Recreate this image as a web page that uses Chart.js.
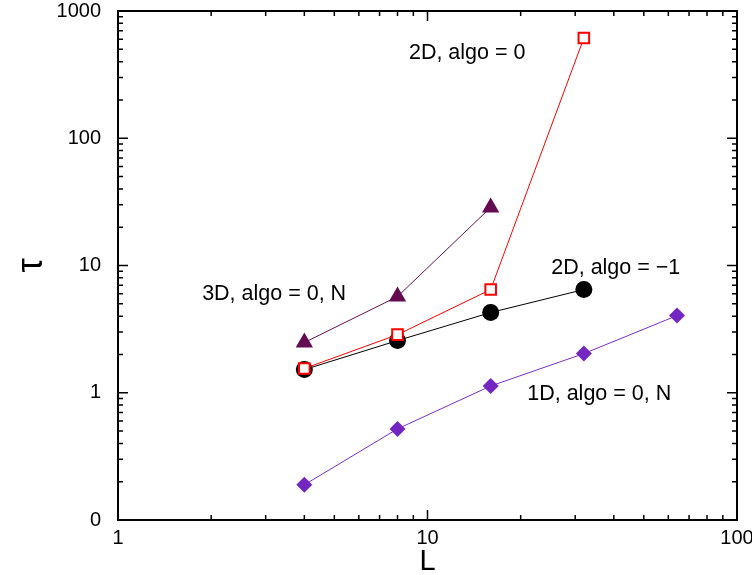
<!DOCTYPE html>
<html>
<head>
<meta charset="utf-8">
<script src="https://cdn.jsdelivr.net/npm/chart.js@4"></script>
<style>
  body { margin: 0; background: #fff; }
  #wrap { width: 752px; height: 575px; }
</style>
</head>
<body>
<div id="wrap"><canvas id="my-chart"></canvas></div>
<script>
'use strict'
///data///
let sizes = [4, 8, 16, 32, 64]
let tau2dAlgoMinus1 = [1.52, 2.57, 4.27, 6.47]
let tau2dAlgo0 = [1.55, 2.86, 6.47, 613]
let tau3dAlgo0N = [2.48, 5.7, 28.6]
let tau1dAlgo0N = [0.189, 0.52, 1.13, 2.03, 4.04]

let xTicks = [1, 10, 100]
let yTicks = [0.1, 1, 10, 100, 1000]
let yTickLabels = ['0', '1', '10', '100', '1000']

///labels written in the plot, anchored in data units (left edge, middle)
let notes = [
  { text: '2D, algo = 0', x: 8.71, y: 468 },
  { text: '3D, algo = 0, N', x: 1.87, y: 5.97 },
  { text: '2D, algo = \u22121', x: 25.1, y: 9.55 },
  { text: '1D, algo = 0, N', x: 21.0, y: 0.97 }
]

const FONT = '"Liberation Sans", Arial, sans-serif'

function toPoints(vals) {
  let pts = []
  for (let i = 0; i < vals.length; i++) {
    pts.push({ x: sizes[i], y: vals[i] })
  }
  return pts
}

///frame + inward ticks on all four sides
let frameTicks = {
  id: 'frameTicks',
  afterDraw(chart) {
    let c = chart.ctx
    let a = chart.chartArea
    let xs = chart.scales.x
    let ys = chart.scales.y
    c.save()
    c.strokeStyle = '#000'
    c.lineWidth = 1.5
    function logTicks(min, max) {
      let out = []
      for (let d = min; d < max * 0.999; d *= 10) {
        for (let k = 1; k < 10; k++) out.push({ v: d * k, major: k === 1 })
      }
      out.push({ v: max, major: true })
      return out
    }
    logTicks(1, 100).forEach(t => {
      let px = xs.getPixelForValue(t.v)
      let len = t.major ? 10 : 5
      c.beginPath()
      c.moveTo(px, a.bottom); c.lineTo(px, a.bottom - len)
      c.moveTo(px, a.top); c.lineTo(px, a.top + len)
      c.stroke()
    })
    logTicks(0.1, 1000).forEach(t => {
      let py = ys.getPixelForValue(t.v)
      let len = t.major ? 10 : 5
      c.beginPath()
      c.moveTo(a.left, py); c.lineTo(a.left + len, py)
      c.moveTo(a.right, py); c.lineTo(a.right - len, py)
      c.stroke()
    })
    c.lineWidth = 2
    c.strokeRect(a.left, a.top, a.right - a.left, a.bottom - a.top)
    ///notes
    c.fillStyle = '#000'
    c.font = '21.5px ' + FONT
    c.textAlign = 'left'
    c.textBaseline = 'middle'
    notes.forEach(n => {
      c.fillText(n.text, xs.getPixelForValue(n.x), ys.getPixelForValue(n.y))
    })
    c.restore()
  }
}

let ctx = document.getElementById('my-chart').getContext('2d')

let chartObject = {
  type: 'line',
  data: {
    datasets: [
      {
        label: '2D, algo = -1',
        data: toPoints(tau2dAlgoMinus1),
        borderColor: '#000000',
        backgroundColor: '#000000',
        borderWidth: 1,
        pointStyle: 'circle',
        pointRadius: 8.5,
        pointBorderWidth: 0,
        order: 2
      },
      {
        label: '2D, algo = 0',
        data: toPoints(tau2dAlgo0),
        borderColor: '#ff0000',
        backgroundColor: '#ffffff',
        pointBorderColor: '#ff0000',
        borderWidth: 1,
        pointStyle: 'rect',
        pointRadius: 7.5,
        pointBorderWidth: 2,
        order: 1
      },
      {
        label: '3D, algo = 0, N',
        data: toPoints(tau3dAlgo0N),
        borderColor: '#6a1050',
        backgroundColor: '#640a50',
        borderWidth: 1,
        pointStyle: 'triangle',
        pointRadius: 10,
        pointBorderWidth: 0,
        order: 3
      },
      {
        label: '1D, algo = 0, N',
        data: toPoints(tau1dAlgo0N),
        borderColor: '#7a2fc8',
        backgroundColor: '#7326c0',
        borderWidth: 1,
        pointStyle: 'rectRot',
        pointRadius: 8,
        pointBorderWidth: 0,
        order: 4
      }
    ]
  },
  options: {
    responsive: true,
    maintainAspectRatio: false,
    animation: false,
    layout: { padding: { top: 11, right: 15, left: 0, bottom: 0 } },
    plugins: {
      legend: { display: false },
      tooltip: { enabled: false }
    },
    scales: {
      x: {
        type: 'logarithmic',
        min: 1,
        max: 100,
        afterBuildTicks(scale) { scale.ticks = xTicks.map(v => ({ value: v })) },
        afterFit(scale) {
          scale.height = 55
          scale.paddingLeft = 0
          scale.paddingRight = 0
        },
        grid: { display: false },
        border: { display: false },
        ticks: {
          color: '#000',
          padding: -2,
          maxRotation: 0,
          font: { family: FONT, size: 20 },
          callback: v => String(v)
        },
        title: {
          display: true,
          text: 'L',
          color: '#000',
          padding: 0,
          font: { family: FONT, size: 29, lineHeight: 0.9 }
        }
      },
      y: {
        type: 'logarithmic',
        min: 0.1,
        max: 1000,
        afterBuildTicks(scale) { scale.ticks = yTicks.map(v => ({ value: v })) },
        afterFit(scale) {
          scale.width = 118
          scale.paddingTop = 0
          scale.paddingBottom = 0
        },
        grid: { display: false },
        border: { display: false },
        ticks: {
          color: '#000',
          padding: 9,
          font: { family: FONT, size: 20 },
          callback: function (v) {
            let i = yTicks.indexOf(v)
            return i >= 0 ? yTickLabels[i] : ''
          }
        },
        title: {
          display: true,
          text: '\u03c4',
          color: '#000',
          padding: 10,
          font: { family: FONT, size: 36 }
        }
      }
    }
  },
  plugins: [frameTicks]
}

const myChart = new Chart(ctx, chartObject)
</script>
</body>
</html>
